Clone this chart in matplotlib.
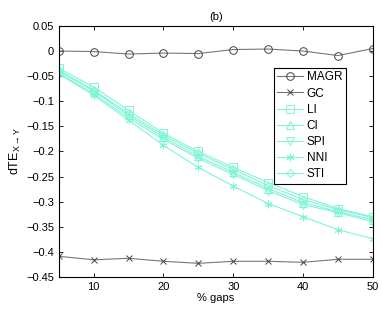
import numpy as np
import matplotlib
matplotlib.use('Agg')
import matplotlib.pyplot as plt

plt.rcParams['font.family'] = ['Liberation Sans', 'DejaVu Sans']
plt.rcParams['mathtext.fontset'] = 'custom'
plt.rcParams['mathtext.rm'] = 'Liberation Sans'
plt.rcParams['mathtext.it'] = 'Liberation Sans'

gaps = [5, 10, 15, 20, 25, 30, 35, 40, 45, 50]
magr = [0.0, -0.001, -0.006, -0.004, -0.005, 0.003, 0.004, 0.0, -0.009, 0.005]
gc = [-0.409, -0.416, -0.413, -0.419, -0.423, -0.419, -0.419, -0.421, -0.415, -0.415]
li = [-0.034, -0.072, -0.118, -0.164, -0.200, -0.232, -0.262, -0.290, -0.314, -0.330]
ci = [-0.040, -0.080, -0.128, -0.172, -0.210, -0.242, -0.274, -0.302, -0.320, -0.336]
spi = [-0.044, -0.085, -0.133, -0.176, -0.214, -0.246, -0.278, -0.306, -0.322, -0.340]
nni = [-0.046, -0.088, -0.138, -0.188, -0.232, -0.269, -0.304, -0.330, -0.356, -0.374]
sti = [-0.038, -0.078, -0.124, -0.168, -0.204, -0.236, -0.268, -0.296, -0.316, -0.332]

yticks = np.arange(-0.45, 0.051, 0.05)
ytick_labels = ['\u22120.45', '\u22120.4', '\u22120.35', '\u22120.3', '\u22120.25', '\u22120.2',
                '\u22120.15', '\u22120.1', '\u22120.05', '0', '0.05']

cyan = '#7ff5d8'
grey = '#777777'

fig = plt.figure(figsize=(3.82, 3.09), dpi=100)
ax = fig.add_axes([0.154, 0.104, 0.822, 0.812])

ms = 5.5
lw = 0.8
ax.plot(gaps, magr, color=grey, lw=lw, marker='o', ms=ms, mfc='none', mec='#444444', mew=0.7, label='MAGR')
ax.plot(gaps, gc, color=grey, lw=lw, marker='x', ms=4, mec='#444444', mew=0.7, label='GC')
# asterisk marker for NNI, like matlab '*'
series = [(li, 's', 'LI'), (ci, '^', 'CI'), (spi, 'v', 'SPI'), (nni, (6, 2, 0), 'NNI'), (sti, 'D', 'STI')]
for vals, mk, name in series:
    size = ms - 1 if mk == 'D' else ms
    ax.plot(gaps, vals, color=cyan, lw=lw, marker=mk, ms=size, mfc='none', mec=cyan, mew=0.7, label=name)

ax.set_xlim(5, 50)
ax.set_ylim(-0.45, 0.05)
ax.set_xticks([10, 20, 30, 40, 50])
ax.set_yticks(yticks)
ax.set_yticklabels(ytick_labels)
ax.tick_params(direction='in', top=True, right=True, labelsize=8, length=3, width=0.6)
for s in ax.spines.values():
    s.set_linewidth(0.8)

ax.set_xlabel('% gaps', fontsize=8, labelpad=1)
ax.set_ylabel(r'dTE$_{X\rightarrow Y}$', fontsize=9, labelpad=2)
ax.set_title('(b)', fontsize=8, pad=4)

leg = ax.legend(loc='upper right', bbox_to_anchor=(0.914, 0.833), fontsize=8.5,
                fancybox=False, framealpha=1, edgecolor='black', handlelength=2.2,
                handletextpad=0.3, borderpad=0.3, labelspacing=0.35, borderaxespad=0)
leg.get_frame().set_linewidth(0.8)

fig.savefig('out.png', dpi=100)
